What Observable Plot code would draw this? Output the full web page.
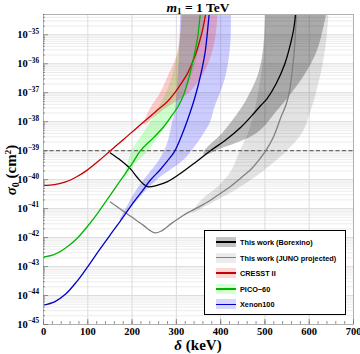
<!DOCTYPE html>
<html><head><meta charset="utf-8">
<script src="https://cdn.jsdelivr.net/npm/d3@7"></script>
<script src="https://cdn.jsdelivr.net/npm/@observablehq/plot@0.6"></script>
<style>
body{margin:0;background:#fff}
#wrap{position:relative;width:360px;height:354px;overflow:hidden}
.serif{font-family:"Liberation Serif","Times New Roman",serif;font-weight:bold;color:#000;position:absolute;white-space:nowrap;line-height:1}
#legend{position:absolute;left:204px;top:230px;width:142px;height:85px;border:1px solid #000;background:#fff;box-sizing:border-box}
.row{position:absolute;left:11px;height:10px;width:130px}
.sw{position:absolute;left:0;top:0;width:20px;height:10px}
.sw i{position:absolute;left:0;top:4.3px;width:20px;height:1.5px}
.lt{position:absolute;left:24px;top:1px;font:bold 7.3px "Liberation Sans",Arial,sans-serif;color:#000;white-space:nowrap}
</style>
</head><body><div id="wrap"></div>
<script>
// ---------- data (delta in keV, log10 sigma0 in cm^2) ----------
const cresstDelta = [0,25,50,75,98,125,151,180,208,242,257,280,295,310,325,335,344,352,359,366,370];
const cresstLog   = [-40.2,-40.17,-40.08,-39.9,-39.68,-39.35,-39.0,-38.62,-38.25,-37.8,-37.6,-37.3,-37.03,-36.7,-36.34,-36.0,-35.65,-35.25,-34.85,-34.3,-34.0];
const picoDelta = [0,25,50,75,100,125,150,175,200,219,249,270,287,305,317,328,336,343,348,354,357];
const picoLog   = [-42.67,-42.58,-42.36,-42.04,-41.6,-41.1,-40.55,-40.0,-39.45,-39.0,-38.54,-38.2,-37.85,-37.45,-37.05,-36.5,-36.0,-35.5,-35.1,-34.3,-34.0];
const xenonDelta = [0,25,50,75,100,125,150,175,200,225,241,264,280,295,310,325,340,350,359,365,369,374,376];
const xenonLog   = [-44.33,-44.22,-43.95,-43.52,-43.0,-42.45,-41.92,-41.4,-40.85,-40.35,-40.02,-39.65,-39.35,-39.05,-38.55,-37.95,-37.26,-36.7,-36.1,-35.6,-35.08,-34.3,-34.0];
const borexDelta = [151,174,196,211,226,237,256,279,309,345,377,410,445,470,490,505,525,545,558,565,569,570];
const borexLog   = [-39.08,-39.33,-39.62,-39.91,-40.16,-40.25,-40.2,-40.08,-39.79,-39.38,-39.0,-38.65,-38.2,-37.8,-37.45,-37.2,-36.7,-36.0,-35.3,-34.8,-34.3,-34.0];
const junoDelta = [151,175,200,225,240,252,265,290,316,350,377,400,423,445,468,485,502,520,536,548,556,562,566,569,571,572];
const junoLog   = [-40.77,-41.03,-41.3,-41.57,-41.75,-41.84,-41.78,-41.5,-41.23,-40.95,-40.71,-40.47,-40.23,-39.95,-39.65,-39.35,-39.0,-38.5,-37.85,-37.4,-36.9,-36.2,-35.6,-34.9,-34.3,-34.0];

// bands: log10 sigma level, lower delta, upper delta
const picoBandLog = [-40.0,-39.5,-39.0,-38.5,-38.0,-37.6,-37.0,-36.2,-35.3,-34.0];
const picoBandLo  = [180,190,200,222,243,258,278,296,308,314];
const picoBandHi  = [183,206,238,262,285,300,320,340,355,365];
const xenonBandLog = [-41.4,-41.0,-40.5,-40.0,-39.33,-38.77,-38.0,-37.6,-36.5,-35.3,-34.0];
const xenonBandLo  = [173,187,205,228,262,280,292,298,304,308,310];
const xenonBandHi  = [177,197,225,258,317,347,378,385,411,423,424];
const cresstBandLog = [-38.1,-37.6,-37.0,-36.4,-35.8,-35.0,-34.0];
const cresstBandLo  = [226,240,265,283,300,310,313];
const cresstBandHi  = [232,272,330,360,378,390,395];
const borexBandLog = [-39.15,-39.0,-38.4,-37.6,-37.2,-36.4,-35.5,-34.0];
const borexBandLo  = [362,365,405,445,461,485,497,502];
const borexBandHi  = [370,392,483,530,552,590,620,643];
const junoBandLog = [-41.15,-40.7,-40.2,-39.7,-39.0,-38.4,-37.6,-36.8,-35.9,-35.0,-34.0];
const junoBandLo  = [335,358,398,425,445,463,478,488,497,501,502];
const junoBandHi  = [340,395,452,498,551,585,605,620,633,641,646];

const xTicks = [0,100,200,300,400,500,600,700];
const yDecades = [-45,-44,-43,-42,-41,-40,-39,-38,-37,-36,-35];
const refLine = [-39];

// ---------- build ----------
const line = (ds, ls) => ds.map((d,i)=>({d, s:10**ls[i]}));
const band = (L, lo, hi) => L.map((l,i)=>({s:10**l, lo:lo[i], hi:hi[i]}));
const yMinor = [];
for (const e of yDecades) for (let k=2;k<=9;k++){ const v=k*10**e; if (v < 10**-34.3) yMinor.push(v); }
const yMaj = yDecades.map(e=>10**e);
const xMinor = d3.range(0,701,20);

const crv = "catmull-rom";
const plot = Plot.plot({
  width:360, height:354, marginLeft:43, marginRight:7, marginTop:14, marginBottom:30,
  style:{fontFamily:'"Liberation Serif","Times New Roman",serif', fontWeight:"bold", fontSize:"10.5px", background:"#fff", color:"#000"},
  x:{domain:[0,700], label:null},
  y:{type:"log", domain:[1e-45, 10**-34.3], label:null},
  marks:[
    Plot.gridY(yMinor, {stroke:"#ececec", strokeOpacity:1}),
    Plot.gridY(yMaj, {stroke:"#dcdcdc", strokeOpacity:1}),
    Plot.gridX(xTicks.slice(1,-1), {stroke:"#dcdcdc", strokeOpacity:1}),
    Plot.areaX(band(junoBandLog,junoBandLo,junoBandHi), {y:"s", x1:"lo", x2:"hi", fill:"#000", fillOpacity:0.11, curve:crv, clip:true}),
    Plot.areaX(band(borexBandLog,borexBandLo,borexBandHi), {y:"s", x1:"lo", x2:"hi", fill:"#000", fillOpacity:0.25, curve:crv, clip:true}),
    Plot.areaX(band(picoBandLog,picoBandLo,picoBandHi), {y:"s", x1:"lo", x2:"hi", fill:"#00ff00", fillOpacity:0.2, curve:crv, clip:true}),
    Plot.areaX(band(xenonBandLog,xenonBandLo,xenonBandHi), {y:"s", x1:"lo", x2:"hi", fill:"#0000ff", fillOpacity:0.2, curve:crv, clip:true}),
    Plot.areaX(band(cresstBandLog,cresstBandLo,cresstBandHi), {y:"s", x1:"lo", x2:"hi", fill:"#ff0000", fillOpacity:0.2, curve:crv, clip:true}),
    Plot.ruleY(refLine.map(e=>10**e), {stroke:"#6a6a6a", strokeWidth:1.2, strokeDasharray:"4,2.5"}),
    Plot.line(line(junoDelta,junoLog), {x:"d", y:"s", stroke:"#808080", strokeWidth:1.3, curve:crv, clip:true}),
    Plot.line(line(borexDelta,borexLog), {x:"d", y:"s", stroke:"#000", strokeWidth:1.3, curve:crv, clip:true}),
    Plot.line(line(cresstDelta,cresstLog), {x:"d", y:"s", stroke:"#c80000", strokeWidth:1.3, curve:crv, clip:true}),
    Plot.line(line(picoDelta,picoLog), {x:"d", y:"s", stroke:"#00b400", strokeWidth:1.3, curve:crv, clip:true}),
    Plot.line(line(xenonDelta,xenonLog), {x:"d", y:"s", stroke:"#0000c8", strokeWidth:1.3, curve:crv, clip:true}),
    Plot.frame({stroke:"#b0b0b0"}),
    Plot.tickX(xMinor, {x:d=>d, insetTop:307, stroke:"#777", strokeWidth:0.8}),
    Plot.tickX(xTicks, {x:d=>d, insetTop:305, stroke:"#777", strokeWidth:0.8}),
    Plot.tickY(yMinor, {y:d=>d, insetRight:308, stroke:"#777", strokeWidth:0.8}),
    Plot.tickY(yMaj, {y:d=>d, insetRight:305, stroke:"#777", strokeWidth:0.8}),
    Plot.axisX(xTicks, {tickSize:0, tickPadding:3, fontSize:10.5}),
    Plot.axisY(yMaj, {tickSize:0, tickPadding:4.5, fontSize:10.5, tickFormat:d=>"E"+Math.round(Math.log10(d))})
  ]
});
// superscript exponents on the y tick labels
d3.select(plot).selectAll("text").each(function(){
  const t = this.textContent;
  const m = /^E(-?\d+)$/.exec(t);
  if (m) {
    const el = d3.select(this); el.text("");
    el.append("tspan").text("10");
    el.append("tspan").attr("dy","-4.5").attr("font-size","7.2px").text(m[1].replace("-","\u2212"));
  }
});
const wrap = document.getElementById("wrap");
wrap.appendChild(plot);

function addDiv(html, css, cls){ const d=document.createElement("div"); if(cls) d.className=cls; d.innerHTML=html; d.style.cssText=css; wrap.appendChild(d); return d; }
addDiv('<i>m</i><span style="font-size:9px;position:relative;top:2.5px">1</span> = 1 TeV', 'left:198px;top:0.5px;transform:translateX(-50%);font-size:13.5px', 'serif');
addDiv('<i>δ</i> (keV)', 'left:198px;top:338px;transform:translateX(-50%);font-size:15px', 'serif');
addDiv('<i>σ</i><span style="font-size:10px;position:relative;top:3px">0</span> (cm<span style="font-size:9px;position:relative;top:-5px">2</span>)', 'left:11px;top:170px;transform:translate(-50%,-50%) rotate(-90deg);font-size:15px', 'serif');

const legendNames = ["This work (Borexino)","This work (JUNO projected)","CRESST II","PICO\u221260","Xenon100"];
const legendLine = ["#000","#808080","#c80000","#00b400","#0000c8"];
const legendFill = ["#c4c4c4","#ececec","#ffd6d6","#d6ffd6","#d6d6ff"];
const lg = document.createElement("div"); lg.id="legend"; wrap.appendChild(lg);
legendNames.forEach((n,i)=>{
  const r=document.createElement("div"); r.className="row"; r.style.top=(6+i*15.6)+"px";
  r.innerHTML='<div class="sw" style="background:'+legendFill[i]+'"><i style="background:'+legendLine[i]+'"></i></div><div class="lt">'+n+'</div>';
  lg.appendChild(r);
});
</script></body></html>
